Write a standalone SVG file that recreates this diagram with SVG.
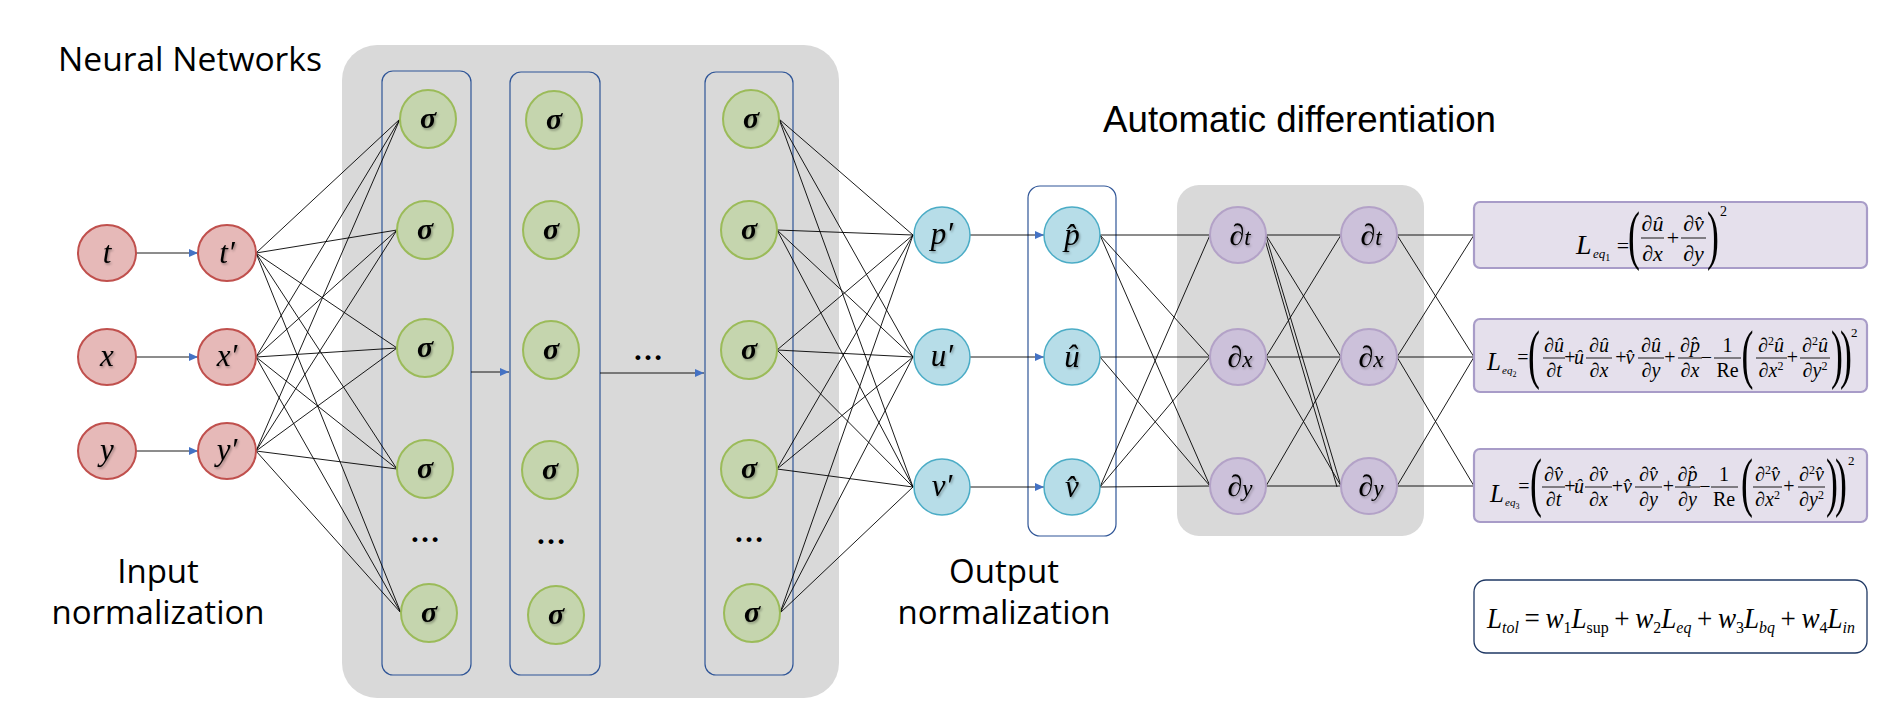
<svg xmlns="http://www.w3.org/2000/svg" width="1890" height="720" viewBox="0 0 1890 720">
<defs>
<style>
.bg{fill:#D9D9D9}
.col{fill:none;stroke:#2F5597;stroke-width:1.2}
.nr{fill:#E6B9B8;stroke:#C0504D;stroke-width:2}
.ng{fill:#C5D5AE;stroke:#9BBB59;stroke-width:2}
.nb{fill:#B7DDE8;stroke:#4BACC6;stroke-width:1.5}
.np{fill:#CCC1DA;stroke:#B3A2C7;stroke-width:2}
.eqb{fill:#E5E0EC;stroke:#A89CC8;stroke-width:2.2}
.tot{fill:#FFFFFF;stroke:#1F3864;stroke-width:1.3}
.lbl{font-family:"Liberation Serif","Times New Roman",serif;font-style:italic;font-size:31px;fill:#000;text-anchor:middle;filter:url(#sh)}
.sig{font-family:"Liberation Serif","Times New Roman",serif;font-style:italic;font-weight:bold;font-size:30px;fill:#000;text-anchor:middle;filter:url(#sh)}
.dots{font-family:"Liberation Serif","Times New Roman",serif;font-weight:bold;font-size:30px;fill:#000;text-anchor:middle}
.head{font-family:"Open Sans","Liberation Sans",sans-serif;font-size:33px;fill:#000}
.cn line{stroke:#000;stroke-width:0.9}
.arr{stroke:#4472C4;stroke-width:2.2;marker-end:url(#ah)}
.m{font-family:"Liberation Serif","Times New Roman",serif;font-style:italic;fill:#000}
.u{font-family:"Liberation Serif","Times New Roman",serif;font-style:normal;fill:#000}
.fr{font-size:20px;text-anchor:middle}
.op{font-size:20px;text-anchor:middle}
.fr1{font-size:22px;text-anchor:middle}
.bar{stroke:#000;stroke-width:0.9}
.pl{font-size:65px;text-anchor:middle}
</style>
<marker id="ah" markerWidth="9" markerHeight="8" refX="9" refY="4" orient="auto" markerUnits="userSpaceOnUse"><path d="M0,0 L9,4 L0,8 z" fill="#4472C4"/></marker>
<filter id="sh" x="-30%" y="-30%" width="160%" height="160%"><feDropShadow dx="1.2" dy="1.6" stdDeviation="0.9" flood-color="#000" flood-opacity="0.35"/></filter>
</defs>

<g id="panels">
<rect id="nn-panel" class="bg" x="342" y="45" width="497" height="653" rx="35"/>
<rect id="ad-panel" class="bg" x="1177" y="185" width="247" height="351" rx="22"/>
<rect id="layer1-box" class="col" x="382" y="71" width="89" height="604" rx="11"/>
<rect id="layer2-box" class="col" x="510" y="72" width="90" height="603" rx="11"/>
<rect id="layer3-box" class="col" x="705" y="72" width="88" height="603" rx="11"/>
<rect id="hat-box" class="col" x="1028" y="186" width="88" height="350" rx="12"/>
</g>

<g id="titles">
<text class="head" x="58" y="71" textLength="264" lengthAdjust="spacingAndGlyphs">Neural Networks</text>
<text x="1103" y="132" font-family="Liberation Sans, Arial, sans-serif" font-size="36" textLength="393" lengthAdjust="spacingAndGlyphs">Automatic differentiation</text>
<text class="head" text-anchor="middle"><tspan x="158" y="583">Input</tspan><tspan x="158" y="624">normalization</tspan></text>
<text class="head" text-anchor="middle"><tspan x="1004" y="583">Output</tspan><tspan x="1004" y="624">normalization</tspan></text>
</g>

<g id="connectors" class="cn">
<line class="arr" x1="136" y1="253" x2="198" y2="253"/>
<line class="arr" x1="136" y1="357" x2="198" y2="357"/>
<line class="arr" x1="136" y1="451" x2="198" y2="451"/>
<line class="arr" x1="471" y1="372" x2="509" y2="372"/>
<line class="arr" x1="600" y1="373" x2="704" y2="373"/>
<line class="arr" x1="970" y1="235" x2="1044" y2="235"/>
<line class="arr" x1="970" y1="357" x2="1044" y2="357"/>
<line class="arr" x1="970" y1="487" x2="1044" y2="487"/>

<line x1="256" y1="253" x2="400" y2="119"/>
<line x1="256" y1="253" x2="397" y2="230"/>
<line x1="256" y1="253" x2="397" y2="348"/>
<line x1="256" y1="253" x2="397" y2="469"/>
<line x1="256" y1="253" x2="401" y2="613"/>
<line x1="256" y1="357" x2="400" y2="119"/>
<line x1="256" y1="357" x2="397" y2="230"/>
<line x1="256" y1="357" x2="397" y2="348"/>
<line x1="256" y1="357" x2="397" y2="469"/>
<line x1="256" y1="357" x2="401" y2="613"/>
<line x1="256" y1="451" x2="400" y2="119"/>
<line x1="256" y1="451" x2="397" y2="230"/>
<line x1="256" y1="451" x2="397" y2="348"/>
<line x1="256" y1="451" x2="397" y2="469"/>
<line x1="256" y1="451" x2="401" y2="613"/>

<line x1="779" y1="119" x2="913" y2="235"/>
<line x1="779" y1="119" x2="913" y2="357"/>
<line x1="779" y1="119" x2="913" y2="487"/>
<line x1="777" y1="230" x2="913" y2="235"/>
<line x1="777" y1="230" x2="913" y2="357"/>
<line x1="777" y1="230" x2="913" y2="487"/>
<line x1="777" y1="350" x2="913" y2="235"/>
<line x1="777" y1="350" x2="913" y2="357"/>
<line x1="777" y1="350" x2="913" y2="487"/>
<line x1="777" y1="469" x2="913" y2="235"/>
<line x1="777" y1="469" x2="913" y2="357"/>
<line x1="777" y1="469" x2="913" y2="487"/>
<line x1="780" y1="613" x2="913" y2="235"/>
<line x1="780" y1="613" x2="913" y2="357"/>
<line x1="780" y1="613" x2="913" y2="487"/>

<line x1="1100" y1="235" x2="1210" y2="235"/>
<line x1="1100" y1="235" x2="1210" y2="357"/>
<line x1="1100" y1="235" x2="1210" y2="486"/>
<line x1="1100" y1="357" x2="1210" y2="357"/>
<line x1="1100" y1="357" x2="1210" y2="486"/>
<line x1="1100" y1="487" x2="1210" y2="235"/>
<line x1="1100" y1="487" x2="1210" y2="357"/>
<line x1="1100" y1="487" x2="1210" y2="486"/>

<line x1="1266" y1="235" x2="1341" y2="235"/>
<line x1="1266" y1="235" x2="1341" y2="357"/>
<line x1="1266" y1="236" x2="1341" y2="486"/>
<line x1="1265" y1="240" x2="1337" y2="487"/>
<line x1="1266" y1="357" x2="1341" y2="235"/>
<line x1="1266" y1="357" x2="1341" y2="357"/>
<line x1="1266" y1="357" x2="1341" y2="486"/>
<line x1="1266" y1="486" x2="1341" y2="357"/>
<line x1="1266" y1="486" x2="1341" y2="486"/>

<line x1="1397" y1="235" x2="1474" y2="235"/>
<line x1="1397" y1="235" x2="1474" y2="357"/>
<line x1="1397" y1="357" x2="1474" y2="235"/>
<line x1="1397" y1="357" x2="1474" y2="357"/>
<line x1="1397" y1="357" x2="1474" y2="486"/>
<line x1="1397" y1="486" x2="1474" y2="357"/>
<line x1="1397" y1="486" x2="1474" y2="486"/>
</g>

<g id="node-t"><ellipse class="nr" cx="107" cy="253" rx="29" ry="28"/><text class="lbl" x="107" y="263">t</text></g>
<g id="node-x"><ellipse class="nr" cx="107" cy="357" rx="29" ry="28"/><text class="lbl" x="107" y="366">x</text></g>
<g id="node-y"><ellipse class="nr" cx="107" cy="451" rx="29" ry="28"/><text class="lbl" x="107" y="460">y</text></g>
<g id="node-t-norm"><ellipse class="nr" cx="227" cy="253" rx="29" ry="28"/><text class="lbl" x="227" y="263">t&#x2032;</text></g>
<g id="node-x-norm"><ellipse class="nr" cx="227" cy="357" rx="29" ry="28"/><text class="lbl" x="227" y="366">x&#x2032;</text></g>
<g id="node-y-norm"><ellipse class="nr" cx="227" cy="451" rx="29" ry="28"/><text class="lbl" x="227" y="460">y&#x2032;</text></g>

<g id="node-h1-1"><ellipse class="ng" cx="428" cy="119" rx="28" ry="29"/><text class="sig" x="428" y="128">σ</text></g>
<g id="node-h1-2"><ellipse class="ng" cx="425" cy="230" rx="28" ry="29"/><text class="sig" x="425" y="239">σ</text></g>
<g id="node-h1-3"><ellipse class="ng" cx="425" cy="348" rx="28" ry="29"/><text class="sig" x="425" y="357">σ</text></g>
<g id="node-h1-4"><ellipse class="ng" cx="425" cy="469" rx="28" ry="29"/><text class="sig" x="425" y="478">σ</text></g>
<g id="node-h1-dots"><text class="dots" x="425" y="542">…</text></g>
<g id="node-h1-5"><ellipse class="ng" cx="429" cy="613" rx="28" ry="29"/><text class="sig" x="429" y="622">σ</text></g>

<g id="node-h2-1"><ellipse class="ng" cx="554" cy="120" rx="28" ry="29"/><text class="sig" x="554" y="129">σ</text></g>
<g id="node-h2-2"><ellipse class="ng" cx="551" cy="230" rx="28" ry="29"/><text class="sig" x="551" y="239">σ</text></g>
<g id="node-h2-3"><ellipse class="ng" cx="551" cy="350" rx="28" ry="29"/><text class="sig" x="551" y="359">σ</text></g>
<g id="node-h2-4"><ellipse class="ng" cx="550" cy="470" rx="28" ry="29"/><text class="sig" x="550" y="479">σ</text></g>
<g id="node-h2-dots"><text class="dots" x="551" y="544">…</text></g>
<g id="node-h2-5"><ellipse class="ng" cx="556" cy="615" rx="28" ry="29"/><text class="sig" x="556" y="624">σ</text></g>

<g id="node-layers-dots"><text class="dots" x="648" y="360">…</text></g>

<g id="node-h3-1"><ellipse class="ng" cx="751" cy="119" rx="28" ry="29"/><text class="sig" x="751" y="128">σ</text></g>
<g id="node-h3-2"><ellipse class="ng" cx="749" cy="230" rx="28" ry="29"/><text class="sig" x="749" y="239">σ</text></g>
<g id="node-h3-3"><ellipse class="ng" cx="749" cy="350" rx="28" ry="29"/><text class="sig" x="749" y="359">σ</text></g>
<g id="node-h3-4"><ellipse class="ng" cx="749" cy="469" rx="28" ry="29"/><text class="sig" x="749" y="478">σ</text></g>
<g id="node-h3-dots"><text class="dots" x="749" y="542">…</text></g>
<g id="node-h3-5"><ellipse class="ng" cx="752" cy="613" rx="28" ry="29"/><text class="sig" x="752" y="622">σ</text></g>

<g id="node-p-norm"><circle class="nb" cx="942" cy="235" r="28"/><text class="lbl" x="942" y="244">p&#x2032;</text></g>
<g id="node-u-norm"><circle class="nb" cx="942" cy="357" r="28"/><text class="lbl" x="942" y="366">u&#x2032;</text></g>
<g id="node-v-norm"><circle class="nb" cx="942" cy="487" r="28"/><text class="lbl" x="942" y="496">v&#x2032;</text></g>

<g id="node-p-hat"><circle class="nb" cx="1072" cy="235" r="28"/><text class="lbl" x="1072" y="245">p&#x302;</text></g>
<g id="node-u-hat"><circle class="nb" cx="1072" cy="357" r="28"/><text class="lbl" x="1072" y="367">&#xFB;</text></g>
<g id="node-v-hat"><circle class="nb" cx="1072" cy="487" r="28"/><text class="lbl" x="1072" y="497">v&#x302;</text></g>

<g id="node-dt-1"><circle class="np" cx="1238" cy="235" r="28"/><text class="m" x="1240" y="245" font-size="30" text-anchor="middle" filter="url(#sh)">∂<tspan font-size="23">t</tspan></text></g>
<g id="node-dx-1"><circle class="np" cx="1238" cy="357" r="28"/><text class="m" x="1240" y="367" font-size="30" text-anchor="middle" filter="url(#sh)">∂<tspan font-size="23">x</tspan></text></g>
<g id="node-dy-1"><circle class="np" cx="1238" cy="486" r="28"/><text class="m" x="1240" y="496" font-size="30" text-anchor="middle" filter="url(#sh)">∂<tspan font-size="23">y</tspan></text></g>
<g id="node-dt-2"><circle class="np" cx="1369" cy="235" r="28"/><text class="m" x="1371" y="245" font-size="30" text-anchor="middle" filter="url(#sh)">∂<tspan font-size="23">t</tspan></text></g>
<g id="node-dx-2"><circle class="np" cx="1369" cy="357" r="28"/><text class="m" x="1371" y="367" font-size="30" text-anchor="middle" filter="url(#sh)">∂<tspan font-size="23">x</tspan></text></g>
<g id="node-dy-2"><circle class="np" cx="1369" cy="486" r="28"/><text class="m" x="1371" y="496" font-size="30" text-anchor="middle" filter="url(#sh)">∂<tspan font-size="23">y</tspan></text></g>

<g id="node-eq1">
<rect class="eqb" x="1474" y="202" width="393" height="66" rx="6"/>
<text class="m" x="1576" y="254" font-size="28">L</text>
<text class="m" x="1593" y="258" font-size="13">eq<tspan class="u" font-size="10" dy="3">1</tspan></text>
<text class="u" x="1623" y="253" font-size="22" text-anchor="middle">=</text>
<text class="u pl" font-size="58" transform="translate(1634,257) scale(0.55,1)">(</text>
<text class="m fr1" x="1652.5" y="231">∂&#xFB;</text>
<line class="bar" x1="1641" y1="238" x2="1664" y2="238"/>
<text class="m fr1" x="1652.5" y="261">∂x</text>
<text class="u" x="1673" y="245" font-size="22" text-anchor="middle">+</text>
<text class="m fr1" x="1693.5" y="231">∂v&#x302;</text>
<line class="bar" x1="1681" y1="238" x2="1706" y2="238"/>
<text class="m fr1" x="1693.5" y="261">∂y</text>
<text class="u pl" font-size="58" transform="translate(1713,257) scale(0.55,1)">)</text>
<text class="u" x="1720" y="216" font-size="14">2</text>
</g>

<g id="node-eq2">
<rect class="eqb" x="1474" y="319" width="393" height="73" rx="6"/>
<text class="m" x="1487" y="370" font-size="25">L</text>
<text class="m" x="1502" y="374" font-size="11">eq<tspan class="u" font-size="8" dy="3">2</tspan></text>
<text class="u op" x="1523" y="364">=</text>
<text class="u pl" transform="translate(1534,376) scale(0.55,1)">(</text>
<text class="m fr" x="1554" y="352">∂&#xFB;</text>
<line class="bar" x1="1543" y1="358" x2="1565" y2="358"/>
<text class="m fr" x="1554" y="377">∂t</text>
<text class="u op" x="1570" y="364">+</text>
<text class="m op" x="1579" y="364">&#xFB;</text>
<text class="m fr" x="1599" y="352">∂&#xFB;</text>
<line class="bar" x1="1586" y1="358" x2="1612" y2="358"/>
<text class="m fr" x="1599" y="377">∂x</text>
<text class="u op" x="1621" y="364">+</text>
<text class="m op" x="1630" y="364">v&#x302;</text>
<text class="m fr" x="1651" y="352">∂&#xFB;</text>
<line class="bar" x1="1638" y1="358" x2="1664" y2="358"/>
<text class="m fr" x="1651" y="377">∂y</text>
<text class="u op" x="1670" y="364">+</text>
<text class="m fr" x="1690" y="352">∂p&#x302;</text>
<line class="bar" x1="1678" y1="358" x2="1702" y2="358"/>
<text class="m fr" x="1690" y="377">∂x</text>
<text class="u op" x="1706.5" y="364">−</text>
<text class="u fr" x="1727.5" y="352">1</text>
<line class="bar" x1="1714" y1="358" x2="1741" y2="358"/>
<text class="u fr" x="1727.5" y="377">Re</text>
<text class="u pl" transform="translate(1747.5,376) scale(0.55,1)">(</text>
<text class="m fr" x="1771" y="352">∂<tspan class="u" font-size="12" dy="-7">2</tspan><tspan dy="7">&#xFB;</tspan></text>
<line class="bar" x1="1756" y1="358" x2="1787" y2="358"/>
<text class="m fr" x="1771" y="377">∂x<tspan class="u" font-size="12" dy="-7">2</tspan></text>
<text class="u op" x="1792.5" y="364">+</text>
<text class="m fr" x="1815" y="352">∂<tspan class="u" font-size="12" dy="-7">2</tspan><tspan dy="7">&#xFB;</tspan></text>
<line class="bar" x1="1800" y1="358" x2="1830" y2="358"/>
<text class="m fr" x="1815" y="377">∂y<tspan class="u" font-size="12" dy="-7">2</tspan></text>
<text class="u pl" transform="translate(1837,376) scale(0.55,1)">)</text>
<text class="u pl" transform="translate(1846,376) scale(0.55,1)">)</text>
<text class="u" x="1851" y="337" font-size="13">2</text>
</g>

<g id="node-eq3">
<rect class="eqb" x="1474" y="449" width="393" height="73" rx="6"/>
<text class="m" x="1490" y="502" font-size="25">L</text>
<text class="m" x="1505" y="506" font-size="11">eq<tspan class="u" font-size="8" dy="3">3</tspan></text>
<text class="u op" x="1524" y="493">=</text>
<text class="u pl" transform="translate(1536,504) scale(0.55,1)">(</text>
<text class="m fr" x="1553.5" y="481">∂v&#x302;</text>
<line class="bar" x1="1542" y1="487" x2="1565" y2="487"/>
<text class="m fr" x="1553.5" y="506">∂t</text>
<text class="u op" x="1570" y="493">+</text>
<text class="m op" x="1579" y="493">&#xFB;</text>
<text class="m fr" x="1598.5" y="481">∂v&#x302;</text>
<line class="bar" x1="1585" y1="487" x2="1612" y2="487"/>
<text class="m fr" x="1598.5" y="506">∂x</text>
<text class="u op" x="1617.5" y="493">+</text>
<text class="m op" x="1627.5" y="493">v&#x302;</text>
<text class="m fr" x="1648.5" y="481">∂v&#x302;</text>
<line class="bar" x1="1635" y1="487" x2="1662" y2="487"/>
<text class="m fr" x="1648.5" y="506">∂y</text>
<text class="u op" x="1668.5" y="493">+</text>
<text class="m fr" x="1687.5" y="481">∂p&#x302;</text>
<line class="bar" x1="1675" y1="487" x2="1700" y2="487"/>
<text class="m fr" x="1687.5" y="506">∂y</text>
<text class="u op" x="1705" y="493">−</text>
<text class="u fr" x="1724" y="481">1</text>
<line class="bar" x1="1711" y1="487" x2="1738" y2="487"/>
<text class="u fr" x="1724" y="506">Re</text>
<text class="u pl" transform="translate(1747,504) scale(0.55,1)">(</text>
<text class="m fr" x="1767.5" y="481">∂<tspan class="u" font-size="12" dy="-7">2</tspan><tspan dy="7">v&#x302;</tspan></text>
<line class="bar" x1="1753" y1="487" x2="1782" y2="487"/>
<text class="m fr" x="1767.5" y="506">∂x<tspan class="u" font-size="12" dy="-7">2</tspan></text>
<text class="u op" x="1789" y="493">+</text>
<text class="m fr" x="1811.5" y="481">∂<tspan class="u" font-size="12" dy="-7">2</tspan><tspan dy="7">v&#x302;</tspan></text>
<line class="bar" x1="1798" y1="487" x2="1825" y2="487"/>
<text class="m fr" x="1811.5" y="506">∂y<tspan class="u" font-size="12" dy="-7">2</tspan></text>
<text class="u pl" transform="translate(1832,504) scale(0.55,1)">)</text>
<text class="u pl" transform="translate(1841,504) scale(0.55,1)">)</text>
<text class="u" x="1848" y="465" font-size="13">2</text>
</g>

<g id="node-total-loss">
<rect class="tot" x="1474" y="580" width="393" height="73" rx="12"/>
<text class="m" x="1487" y="628" font-size="29" textLength="368" lengthAdjust="spacingAndGlyphs">L<tspan font-size="17" dy="5">tol</tspan><tspan class="u" dy="-5" dx="6">=</tspan><tspan dx="6">w</tspan><tspan class="u" font-size="17" dy="5">1</tspan><tspan dy="-5">L</tspan><tspan class="u" font-size="17" dy="5">sup</tspan><tspan class="u" dy="-5" dx="6">+</tspan><tspan dx="6">w</tspan><tspan class="u" font-size="17" dy="5">2</tspan><tspan dy="-5">L</tspan><tspan font-size="17" dy="5">eq</tspan><tspan class="u" dy="-5" dx="6">+</tspan><tspan dx="6">w</tspan><tspan class="u" font-size="17" dy="5">3</tspan><tspan dy="-5">L</tspan><tspan font-size="17" dy="5">bq</tspan><tspan class="u" dy="-5" dx="6">+</tspan><tspan dx="6">w</tspan><tspan class="u" font-size="17" dy="5">4</tspan><tspan dy="-5">L</tspan><tspan font-size="17" dy="5">in</tspan></text>
</g>
</svg>
